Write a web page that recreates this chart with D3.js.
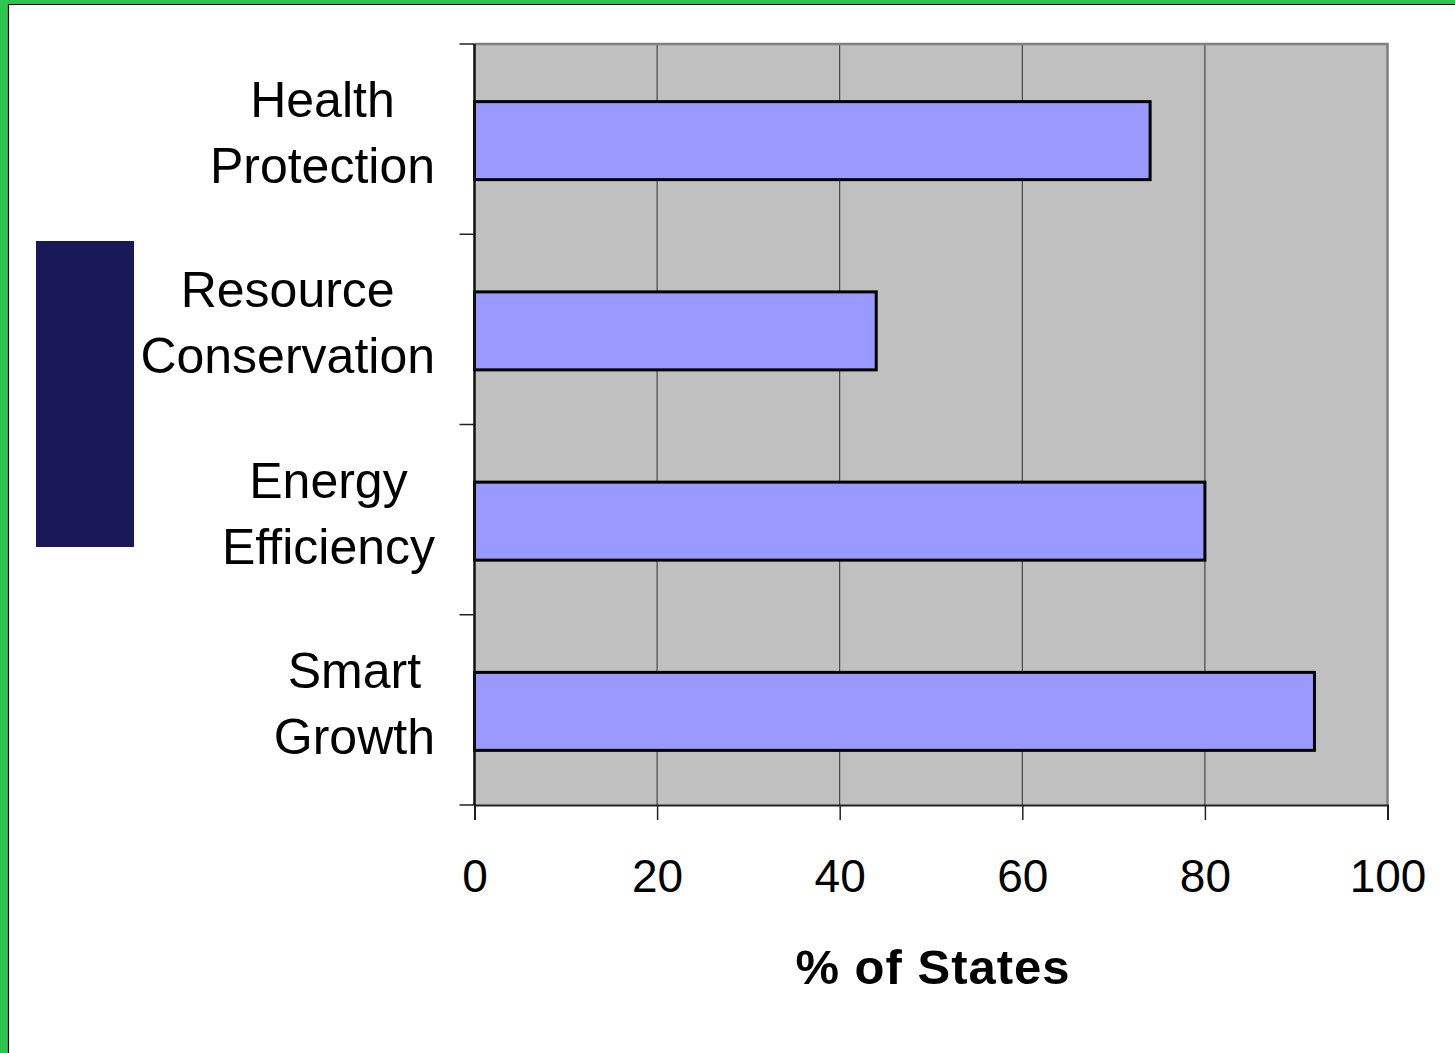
<!DOCTYPE html>
<html>
<head>
<meta charset="utf-8">
<script src="https://cdn.jsdelivr.net/npm/d3@7"></script>
<style>
  html, body { margin: 0; padding: 0; background: #fff; }
  svg { display: block; font-family: "Liberation Sans", Arial, sans-serif; }
</style>
</head>
<body>
<script>
let width = 1455
let height = 1053

// data
const categories = [["Health", "Protection"], ["Resource", "Conservation"], ["Energy", "Efficiency"], ["Smart", "Growth"]]
const values = [74, 44, 80, 92]
const xTicks = [0, 20, 40, 60, 80, 100]

const svg = d3.select("body")
    .append('svg')
    .attr('width', width)
    .attr('height', height)

// green frame (left and top)
svg.append('rect').attr('x', 0).attr('y', 0).attr('width', width).attr('height', 5).attr('fill', '#2ec452')
svg.append('rect').attr('x', 0).attr('y', 0).attr('width', 8).attr('height', height).attr('fill', '#2ec452')
svg.append('line').attr('x1', 8.5).attr('x2', 8.5).attr('y1', 4.5).attr('y2', height).attr('stroke', '#000').attr('stroke-width', 1.2)
svg.append('line').attr('x1', 8.5).attr('x2', width).attr('y1', 4.5).attr('y2', 4.5).attr('stroke', '#000').attr('stroke-width', 1.2)

// navy block on the left
svg.append('rect').attr('x', 36).attr('y', 241).attr('width', 98).attr('height', 306).attr('fill', '#191959')

const plotL = 474.5, plotR = 1387.5, plotT = 44, plotB = 805

const x = d3.scaleLinear().domain([0, 100]).range([plotL, plotR])
const y = d3.scaleBand().domain(d3.range(categories.length)).range([plotT, plotB])

const g = svg.append('g')

// plot background
g.append('rect')
    .attr('x', plotL).attr('y', plotT)
    .attr('width', plotR - plotL).attr('height', plotB - plotT)
    .attr('fill', '#c0c0c0')

// vertical gridlines
g.selectAll('.grid')
    .data(xTicks.slice(1, -1))
    .enter()
    .append('line')
    .attr('x1', d => x(d)).attr('x2', d => x(d))
    .attr('y1', plotT).attr('y2', plotB)
    .attr('stroke', '#303030')
    .attr('stroke-width', 1)

// top and right border in grey
g.append('path')
    .attr('d', `M${plotL},${plotT}H${plotR}V${plotB}`)
    .attr('fill', 'none')
    .attr('stroke', '#808080')
    .attr('stroke-width', 2.5)

// bars
const barH = y.bandwidth() * 0.41
g.selectAll('.bar')
    .data(values)
    .enter()
    .append('rect')
    .attr('x', x(0))
    .attr('y', (d, i) => y(i) + (y.bandwidth() - barH) / 2 + 1.5)
    .attr('width', d => x(d) - x(0))
    .attr('height', barH)
    .attr('fill', '#9999ff')
    .attr('stroke', '#000')
    .attr('stroke-width', 3)

// x axis
const xAxis = d3.axisBottom(x).tickValues(xTicks).tickSize(15).tickPadding(39)
const xg = g.append('g').attr('transform', `translate(0,${plotB})`).call(xAxis)
xg.select('.domain').attr('stroke', '#222').attr('stroke-width', 2)
xg.selectAll('.tick line').attr('stroke', '#222').attr('stroke-width', 1.5)
xg.selectAll('.tick text')
    .attr('font-size', '46px')
    .attr('font-family', '"Liberation Sans", Arial, sans-serif')
    .attr('fill', '#000')
    .attr('dy', '0.71em')

// y axis (ticks at band boundaries)
const yBounds = d3.range(categories.length + 1).map(i => plotT + i * y.step())
g.selectAll('.ytick')
    .data(yBounds)
    .enter()
    .append('line')
    .attr('x1', plotL - 15).attr('x2', plotL)
    .attr('y1', d => d).attr('y2', d => d)
    .attr('stroke', '#222').attr('stroke-width', 1.5)
g.append('line')
    .attr('x1', plotL).attr('x2', plotL)
    .attr('y1', plotT).attr('y2', plotB)
    .attr('stroke', '#111').attr('stroke-width', 2.5)

// category labels: centred lines, block right-aligned at x=435
const labelRight = 435
categories.forEach(function(lines, i) {
    const cy = y(i) + y.bandwidth() / 2
    const t = g.append('text')
        .attr('font-size', '50px')
        .attr('fill', '#000')
        .attr('text-anchor', 'middle')
    const spans = lines.map(function(line, j) {
        return t.append('tspan')
            .attr('y', cy - 22 + j * 66)
            .text(line)
    })
    const w = d3.max(spans, s => s.node().getComputedTextLength())
    spans.forEach(s => s.attr('x', labelRight - w / 2))
})

// axis title
svg.append('text')
    .attr('x', 933)
    .attr('y', 984)
    .attr('text-anchor', 'middle')
    .attr('font-size', '49px')
    .attr('font-weight', 'bold')
    .attr('letter-spacing', '1px')
    .attr('fill', '#000')
    .text('% of States')
</script>
</body>
</html>
